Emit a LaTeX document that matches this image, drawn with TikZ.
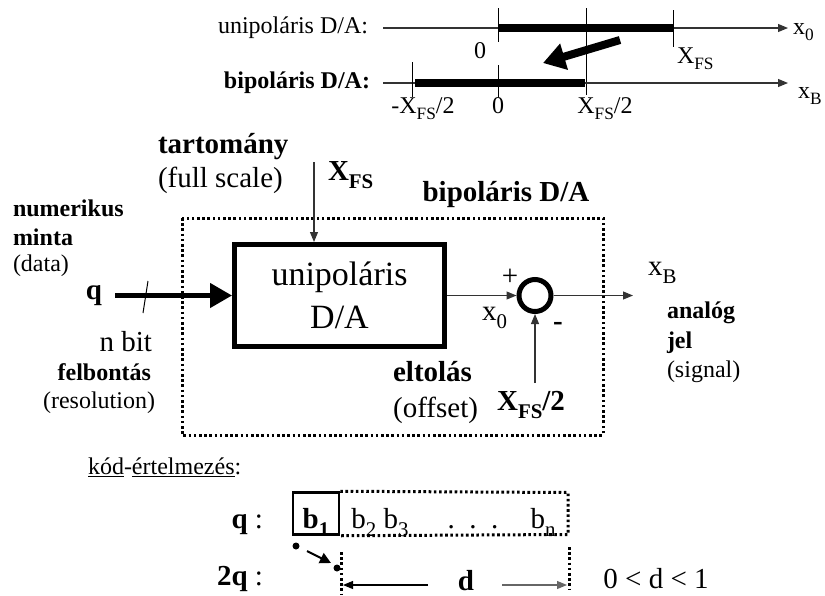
\documentclass[tikz,border=0pt]{standalone}
\usepackage{fontspec}
\setmainfont{Liberation Serif}
\usepackage{graphicx}
\usetikzlibrary{arrows.meta}
\newcommand\sbx[1]{\raisebox{-0.28em}{\scalebox{0.72}{#1}}}
\newcommand\fsm{\fontsize{24}{28}\selectfont}
\newcommand\fmd{\fontsize{29}{34}\selectfont}
\newcommand\fbg{\fontsize{34}{43}\selectfont}
\begin{document}
\begin{tikzpicture}[x=1pt,y=-1pt,
  txt/.style={inner sep=0pt, outer sep=0pt},
  thinline/.style={line width=1.1pt, draw=black!80},
  sarrow/.style={-{Triangle[length=10pt,width=8pt]}},
  dotline/.style={line width=3pt, dash pattern=on 2.6pt off 2.6pt},
  thickbar/.style={line width=8pt},
  tick/.style={line width=0.9pt},
]
\useasboundingbox (0,0) rectangle (825,595);

% ---------- top: number lines ----------
\node[txt, anchor=east] (uniL) at (368,28) {\fsm unipoláris D/A:};
\coordinate (a0s) at (383,28);
\coordinate (a0e) at (788,28);
\draw[thinline, sarrow] (a0s) -- (a0e);
\node[txt, anchor=base west] (x0top) at (793,34) {\fsm x\sbx{0}};
\draw[thickbar] (498,28) -- (673,28);
\draw[tick] (498,8) -- (498,42);
\draw[tick] (586,8) -- (586,95);
\draw[tick] (673,10) -- (673,47);
\node[txt, anchor=base] (zeroT) at (480,58) {\fsm 0};
\node[txt, anchor=base west] (xfsT) at (677,63) {\fsm X\sbx{FS}};

\draw[line width=8pt, -{Triangle[length=22pt,width=26pt]}] (620,40) -- (543,63);

\node[txt, anchor=east] (bipL) at (370,83) {\fsm\bfseries bipoláris D/A:};
\coordinate (aBs) at (383,83);
\coordinate (aBe) at (788,83);
\draw[thinline, sarrow] (aBs) -- (aBe);
\node[txt, anchor=base west] (xBtop) at (798,98) {\fsm x\sbx{B}};
\draw[thickbar] (415,83) -- (585,83);
\draw[tick] (412,62) -- (412,97);
\draw[tick] (498,65) -- (498,97);
\node[txt, anchor=base] (mhalf) at (423,113) {\fsm -X\sbx{FS}/2};
\node[txt, anchor=base] (zeroB) at (498,113) {\fsm 0};
\node[txt, anchor=base] (phalf) at (605,113) {\fsm X\sbx{FS}/2};

% ---------- block diagram ----------
\draw[dotline] (182,218) rectangle (603,435);
\node[txt] (bipT) at (506,195) {\fmd\bfseries bipoláris D/A};

\node[draw, line width=5pt, minimum width=210pt, minimum height=102pt,
      inner sep=0pt, align=center, font=\fbg] (uni) at (339.5,295.5)
      {unipoláris\\D/A};

\node[txt, anchor=west] (numL) at (13,208) {\fsm\bfseries numerikus};
\node[txt, anchor=west] (mintaL) at (13,237) {\fsm\bfseries minta};
\node[txt, anchor=west] (dataL) at (13,266) {\fsm (data)};
\node[txt] (qL) at (94,296) {\fmd\bfseries q};
\coordinate (qs) at (115,295.5);
\draw[line width=4.5pt, -{Triangle[length=22pt,width=24pt]}] (qs) -- (uni.west);
\draw[line width=1pt] (148,281) -- (143,313);
\node[txt, anchor=east] (nbit) at (152,342) {\fmd n bit};
\node[txt, anchor=east] (felb) at (151,372) {\fsm\bfseries felbontás};
\node[txt, anchor=east] (resol) at (155,403) {\fsm (resolution)};

\node[txt, anchor=west] (tart) at (158,147) {\fmd\bfseries tartomány};
\node[txt, anchor=west] (fulls) at (158,180) {\fmd (full scale)};
\coordinate (xfsin) at (314,162);
\draw[thinline, sarrow] (xfsin) -- (uni.north -| xfsin);
\node[txt, anchor=base west] (xfsM) at (328,180) {\fmd\bfseries X\sbx{FS}};

\node[circle, draw, line width=5pt, minimum size=32pt, inner sep=0pt] (sum) at (535,295.5) {};
\draw[thinline, sarrow] (uni.east) -- (sum.west);
\node[txt] (plus) at (510,277) {\fmd +};
\node[txt] (minus) at (558,326) {\fmd\bfseries -};
\node[txt, anchor=base west] (x0M) at (482,320) {\fmd x\sbx{0}};
\coordinate (outp) at (633,295.5);
\draw[thinline, sarrow] (sum.east) -- (outp);
\node[txt, anchor=base west] (xBM) at (648,275) {\fmd x\sbx{B}};
\node[txt, anchor=west] (anal) at (667,313) {\fsm\bfseries analóg};
\node[txt, anchor=west] (jel) at (667,343) {\fsm\bfseries jel};
\node[txt, anchor=west] (sign) at (667,372) {\fsm (signal)};
\coordinate (offin) at (535,383);
\draw[thinline, sarrow] (offin) -- (sum.south);
\node[txt, anchor=base] (xfs2) at (531,410) {\fmd\bfseries X\sbx{FS}/2};
\node[txt, anchor=east] (eltol) at (472,372) {\fmd\bfseries eltolás};
\node[txt, anchor=east] (offs) at (478,410) {\fmd (offset)};

% ---------- code interpretation ----------
\node[txt, anchor=west] (kod) at (88,467) {\fsm\underline{kód}-\underline{értelmezés}:};
\node[txt, anchor=base east] (qrow) at (263,528) {\fmd\bfseries q\mdseries\ :};
\node[draw, line width=2.5pt, minimum width=46pt, minimum height=42pt, inner sep=0pt]
      (b1) at (316,513.5) {};
\node[txt, anchor=base] (b1t) at (316,528) {\fmd\bfseries b\sbx{1}};
\coordinate (rne) at (568,492.5);
\coordinate (rse) at (568,534.5);
\draw[dotline] (b1.north east) -- (rne) -- (rse) -- (b1.south east);
\node[txt, anchor=base] (b23) at (380,528) {\fmd b\sbx{2} b\sbx{3}};
\node[txt, anchor=base] (dots) at (473,528) {\fmd .\ \ .\ \ .};
\node[txt, anchor=base] (bn) at (543,528) {\fmd b\sbx{n}};

\node[txt, anchor=base east] (q2row) at (263,585) {\fmd\bfseries 2q\mdseries\ :};
\fill (296,546) circle (3.5pt);
\fill (337,568) circle (3.5pt);
\coordinate (sh1) at (307,551);
\coordinate (sh2) at (331,563);
\draw[line width=2pt, -{Triangle[length=11pt,width=11pt]}] (sh1) -- (sh2);
\draw[dotline] (341,552) -- (341,595);
\draw[dotline] (569,547) -- (569,590);
\coordinate (dl1) at (428,585);
\coordinate (dl2) at (343,585);
\coordinate (dr1) at (502,585);
\coordinate (dr2) at (567,585);
\draw[line width=1.1pt, sarrow] (dl1) -- (dl2);
\draw[line width=1.1pt, draw=black!60, sarrow] (dr1) -- (dr2);
\node[txt, anchor=base] (dlab) at (466,590) {\fmd\bfseries d};
\node[txt, anchor=base] (ineq) at (656,588) {\fmd 0 < d < 1};
\end{tikzpicture}
\end{document}
